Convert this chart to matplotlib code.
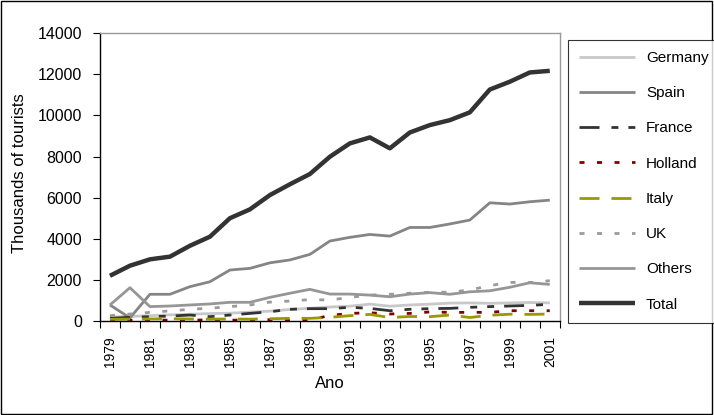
import matplotlib.pyplot as plt
import numpy as np
from matplotlib.patches import Rectangle

plt.rcParams['font.family'] = ['Liberation Sans', 'DejaVu Sans']

years = list(range(1979, 2002))

germany = [200, 220, 260, 300, 330, 360, 380, 430, 480, 560, 620, 680, 720,
           820, 720, 780, 820, 870, 880, 860, 880, 900, 880]
spain = [780, 150, 1300, 1300, 1670, 1910, 2480, 2560, 2830, 2970, 3240, 3890,
         4070, 4210, 4130, 4550, 4550, 4720, 4910, 5750, 5690, 5800, 5880]
france = [130, 180, 210, 240, 290, 210, 290, 370, 450, 570, 600, 600, 665,
          615, 500, 570, 600, 615, 665, 700, 730, 760, 810]
holland = [50, 40, 50, 40, 50, 50, 40, 50, 60, 40, 50, 270, 370, 400, 340,
           370, 440, 420, 420, 420, 500, 500, 500]
italy = [80, 90, 100, 110, 100, 90, 100, 90, 110, 130, 130, 180, 260, 320,
         170, 220, 210, 290, 170, 280, 330, 320, 340]
uk = [260, 340, 420, 490, 570, 620, 700, 780, 920, 970, 1040, 1020, 1150,
      1260, 1300, 1350, 1400, 1400, 1510, 1720, 1880, 1870, 1960]
others = [780, 1620, 700, 730, 780, 830, 910, 910, 1150, 1350, 1540, 1310,
          1310, 1260, 1180, 1310, 1380, 1300, 1420, 1470, 1640, 1860, 1780]
total = [2200, 2690, 3000, 3130, 3660, 4100, 5000, 5430, 6125, 6650, 7150,
         7990, 8640, 8930, 8400, 9170, 9530, 9770, 10150, 11260, 11640, 12090,
         12170]

# name, values, colour, width, dash style
series = [
    ('Germany', germany, '#c8c8c8', 2.0, '-'),
    ('Spain', spain, '#858585', 2.0, '-'),
    ('France', france, '#333333', 2.0, (0, (7.2, 4.3, 2.5, 3.6, 2.5, 3.6))),
    ('Holland', holland, '#800000', 2.0, (0, (1.8, 4.5))),
    ('Italy', italy, '#999900', 2.0, (0, (7.2, 4.3))),
    ('UK', uk, '#9a9a9a', 2.0, (0, (1.8, 4.5))),
    ('Others', others, '#969696', 2.0, '-'),
    ('Total', total, '#333333', 3.2, '-'),
]

fig = plt.figure(figsize=(7.14, 4.15), dpi=100)
ax = fig.add_axes([0.140, 0.2265, 0.644, 0.6935])

x = np.arange(len(years))
for name, vals, color, lw, ls in series:
    ax.plot(x, vals, color=color, lw=lw, linestyle=ls, label=name,
            solid_capstyle='butt', dash_capstyle='butt')

ax.set_xlim(-0.5, len(years) - 0.5)
ax.set_ylim(0, 14000)
ax.set_yticks(np.arange(0, 14001, 2000))
ax.set_xticks(x[::2])
ax.set_xticklabels([str(y) for y in years[::2]], rotation=90)
ax.set_xticks(np.arange(-0.5, len(years), 1), minor=True)
ax.tick_params(axis='x', which='major', length=0, pad=11, labelsize=10)
ax.tick_params(axis='x', which='minor', length=5, direction='out', width=0.8)
ax.tick_params(axis='y', length=5, direction='out', width=0.8, labelsize=11.5, pad=8)

for side in ['left', 'bottom']:
    ax.spines[side].set_color('black')
    ax.spines[side].set_linewidth(1.0)
for side in ['top', 'right']:
    ax.spines[side].set_color('#999999')
    ax.spines[side].set_linewidth(1.0)

fig.text(20 / 714, 1 - 173 / 415, 'Thousands of tourists', rotation=90,
         ha='center', va='center', fontsize=12)
fig.text(330 / 714, 1 - 383 / 415, 'Ano', ha='center', va='center', fontsize=12)

leg = fig.legend(loc='upper left', bbox_to_anchor=(568 / 714, 1 - 40 / 415),
                 frameon=True, fancybox=False, fontsize=11, handlelength=3.66,
                 handletextpad=0.72, labelspacing=1.39, borderpad=0.72,
                 borderaxespad=0)
leg.get_frame().set_edgecolor('black')
leg.get_frame().set_linewidth(0.8)

fig.patches.append(Rectangle((0.001, 0.003), 0.996, 0.995, transform=fig.transFigure,
                             fill=False, edgecolor='black', linewidth=1.0))

fig.savefig('out.png', dpi=100)
